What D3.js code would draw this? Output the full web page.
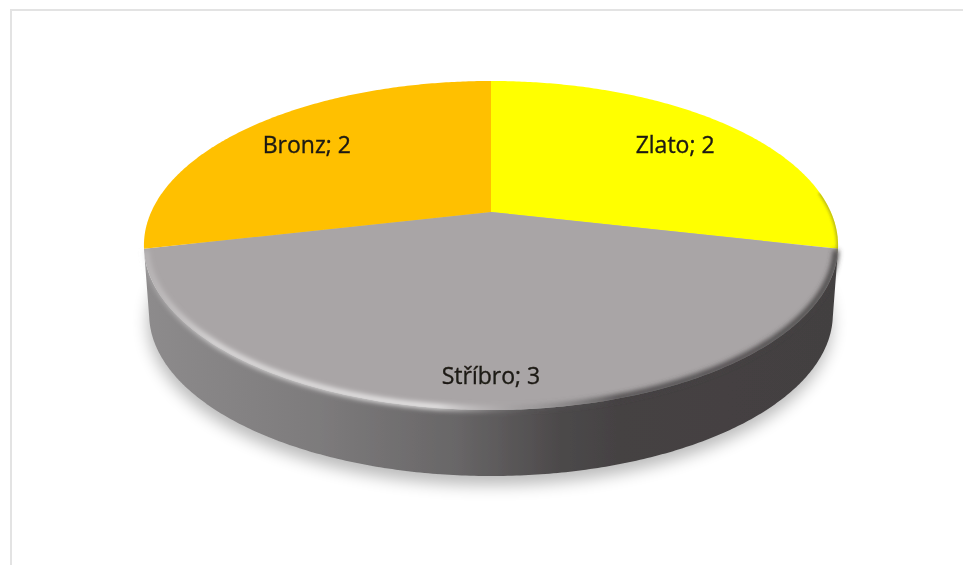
<!DOCTYPE html>
<html><head><meta charset="utf-8">
<script src="https://cdn.jsdelivr.net/npm/d3@7"></script>
<style>html,body{margin:0;padding:0;background:#fff;overflow:hidden}svg{display:block}</style>
</head><body><svg id="c" width="963" height="565"></svg>
<script>
const categories = ["Zlato", "Stříbro", "Bronz"];
const values = [2, 3, 2];
const sliceColors = ["#FFFF00", "#A9A5A6", "#FFC000"];
const labelRadii = [0.76, 0.855, 0.76];

const cx = 491, cy = 212, Rx = 339.8, Ry = 157.7, persp = 0.2036;
const depth = 68.5, baseScale = 0.985, baseCy = 245.5;

const svg = d3.select("#c");
const defs = svg.append("defs");
function blur(id, s){
  defs.append("filter").attr("id", id).attr("x","-20%").attr("y","-20%").attr("width","140%").attr("height","140%")
    .append("feGaussianBlur").attr("stdDeviation", s);
}
blur("shadowBlur", 8); blur("rimBlur", 2.6); blur("edgeBlur", 1.4); blur("soft", 0.7); blur("textBlur", 0.5);

// perspective projection of a unit-disc point (r, angle) on the top face
const topFace = (a, r = 1) => {
  const w = 1 + persp * r * Math.cos(a);
  return [cx + Rx * r * Math.sin(a) / w, cy - Ry * r * Math.cos(a) / w];
};
const base = a => {
  const [x, y] = topFace(a);
  return [cx + (x - cx) * baseScale, baseCy + depth + (y - baseCy) * baseScale];
};
const line = d3.line();
const sweep = (a0, a1) => {
  const n = Math.max(2, Math.ceil(Math.abs(a1 - a0) / 0.01));
  return d3.range(n + 1).map(i => a0 + (a1 - a0) * i / n);
};

const arcs = d3.pie().sort(null).value(d => d)(values);
const front = arcs[1];

// frame
svg.append("path").attr("d", "M963,10H11V565").attr("fill","none").attr("stroke","#e3e3e3").attr("stroke-width",2);

const g = svg.append("g").attr("filter","url(#soft)");

// drop shadow
g.append("path").attr("d", line(sweep(0, 2*Math.PI).map(base)) + "Z")
  .attr("transform","translate(-1,9)").attr("fill","#000").attr("opacity",0.27).attr("filter","url(#shadowBlur)");

// side wall
const sideGrad = defs.append("linearGradient").attr("id","side").attr("gradientUnits","userSpaceOnUse")
  .attr("x1",146).attr("x2",838).attr("y1",0).attr("y2",0);
[[0,"#8d8b8c"],[0.25,"#7d7b7c"],[0.45,"#686667"],[0.6,"#4c494a"],[0.68,"#454243"],[1,"#434041"]]
  .forEach(s => sideGrad.append("stop").attr("offset",s[0]).attr("stop-color",s[1]));
const fa = sweep(front.startAngle, front.endAngle);
g.append("path").attr("d", line(fa.map(a => topFace(a)).concat(fa.slice().reverse().map(base))) + "Z").attr("fill","url(#side)");

// top face slices
arcs.forEach((d, i) => {
  const pts = [[cx, cy]].concat(sweep(d.startAngle, d.endAngle).map(a => topFace(a)));
  g.append("path").attr("d", line(pts) + "Z").attr("fill", sliceColors[i]);
});

// bevel along the front rim
defs.append("clipPath").attr("id","face").append("path")
  .attr("d", line(sweep(0, 2*Math.PI).map(a => topFace(a))) + "Z");
const rimGrad = defs.append("linearGradient").attr("id","rim").attr("gradientUnits","userSpaceOnUse")
  .attr("x1",146).attr("x2",838).attr("y1",0).attr("y2",0);
[[0,"#d8d6d7",0.35],[0.1,"#f2f1f1",0.7],[0.42,"#f6f5f5",0.85],[0.5,"#c8c6c7",0.3],[0.56,"#666",0.2],[0.68,"#444142",0.9],[1,"#444142",0.95]]
  .forEach(s => rimGrad.append("stop").attr("offset",s[0]).attr("stop-color",s[1]).attr("stop-opacity",s[2]));

// thin darkening of the yellow edge, inside the face only
g.append("g").attr("clip-path","url(#face)").append("path")
  .attr("d", line(sweep(front.startAngle - 0.35, front.startAngle + 0.02).map(a => topFace(a))))
  .attr("fill","none").attr("stroke","#6b6a20").attr("stroke-opacity",0.55).attr("stroke-width",3).attr("filter","url(#edgeBlur)");

// soft highlight/shade over the silver rim
g.append("path").attr("d", line(sweep(front.startAngle + 0.01, front.endAngle - 0.01).map(a => topFace(a, 0.995))))
  .attr("fill","none").attr("stroke","url(#rim)").attr("stroke-width",6).attr("filter","url(#rimBlur)");

// labels
arcs.forEach((d, i) => {
  const mid = (d.startAngle + d.endAngle) / 2;
  const [x, y] = topFace(mid, labelRadii[i]);
  svg.append("text").attr("x", x).attr("y", y).attr("text-anchor","middle").attr("dominant-baseline","central")
    .attr("font-family","'Open Sans', Lato, sans-serif").attr("font-size",23).attr("fill","#1c1a14")
    .attr("stroke","#1c1a14").attr("stroke-width",0.35)
    .attr("filter","url(#textBlur)")
    .text(`${categories[i]}; ${values[i]}`);
});
</script></body></html>
